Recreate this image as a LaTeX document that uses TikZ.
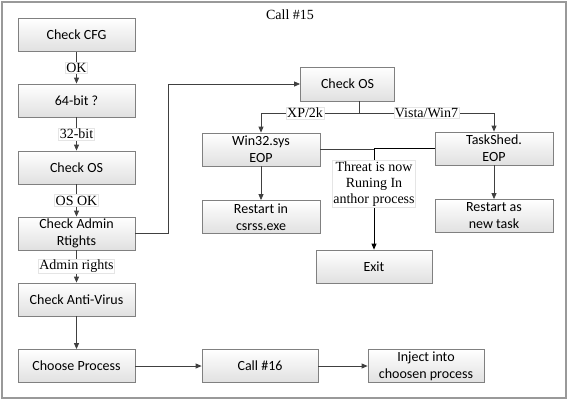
\documentclass[tikz,border=0pt]{standalone}
\usepackage{fontspec}
\setmainfont{Carlito}
\newfontfamily\lblfont{Liberation Serif}
\usetikzlibrary{arrows.meta}
\begin{document}
\begin{tikzpicture}[x=1pt,y=-1pt,font=\fontsize{14}{17}\selectfont,
  box/.style={draw=black!50,line width=0.8pt,top color=white,bottom color=black!12,minimum width=117pt,minimum height=33pt,inner sep=1pt,align=center},
  lbl/.style={font=\lblfont\fontsize{14}{16}\selectfont,fill=white,draw=black!10,inner sep=1pt,align=center},
  conn/.style={draw=black!75,line width=0.8pt},
  arr/.style={conn,-{Triangle[length=6pt,width=5pt]}}]
\useasboundingbox (0,0) rectangle (570,402);
\draw[black!40,line width=1.5pt] (2,2) rectangle (566,398);
\node[font=\lblfont\fontsize{14}{16}\selectfont] (title) at (290,15) {Call \#15};
% left column
\foreach \n/\y/\t in {cfg/35/Check CFG,bit/100.5/64-bit ?,os/167.5/Check OS,adm/233.5/{Check Admin\\Rtights},av/299.5/Check Anti-Virus,choose/366/Choose Process}
  \node[box] (\n) at (76.5,\y) {\t};
\draw[arr] (cfg) -- node[lbl]{OK} (bit);
\draw[arr] (bit) -- node[lbl]{32-bit} (os);
\draw[arr] (os) -- node[lbl]{OS OK} (adm);
\draw[arr] (adm) -- node[lbl]{Admin rights} (av);
\draw[arr] (av) -- (choose);
% right part
\node[box,minimum width=94pt,minimum height=34pt] (chkos) at (347.5,84) {Check OS};
\node[box,minimum width=118pt] (win) at (261,149.5) {Win32.sys\\EOP};
\node[box,minimum width=118pt] (task) at (494,148.5) {TaskShed.\\EOP};
\node[box,minimum width=118pt] (rcsr) at (261,217) {Restart in\\csrss.exe};
\node[box,minimum width=118pt] (rtask) at (494,216) {Restart as\\new task};
\node[box,minimum width=116pt] (exit) at (374,266.5) {Exit};
\node[box,minimum width=116pt] (call) at (260,366) {Call \#16};
\node[box,minimum width=116pt] (inj) at (426,366) {Inject into\\choosen process};
\draw[arr] (adm.east) -- (168,233.5) |- (chkos.west);
\coordinate (split) at (359,113);
\draw[conn] (chkos.south -| split) -- (split);
\draw[arr] (split) -- node[lbl,pos=0.55]{XP/2k} (win.north |- split) -- (win.north);
\draw[arr] (split) -- node[lbl]{Vista/Win7} (task.north |- split) -- (task.north);
\draw[arr] (win) -- (rcsr);
\draw[arr] (task) -- (rtask);
\coordinate (join) at (374,150);
\draw[conn] (win.east) -- (win.east -| join);
\draw[arr,draw=black] (task.west) -- (task.west -| join) -- node[lbl,pos=0.35]{Threat is now\\Runing In\\anthor process} (exit.north);
\draw[arr] (choose) -- (call);
\draw[arr] (call) -- (inj);
\end{tikzpicture}
\end{document}
